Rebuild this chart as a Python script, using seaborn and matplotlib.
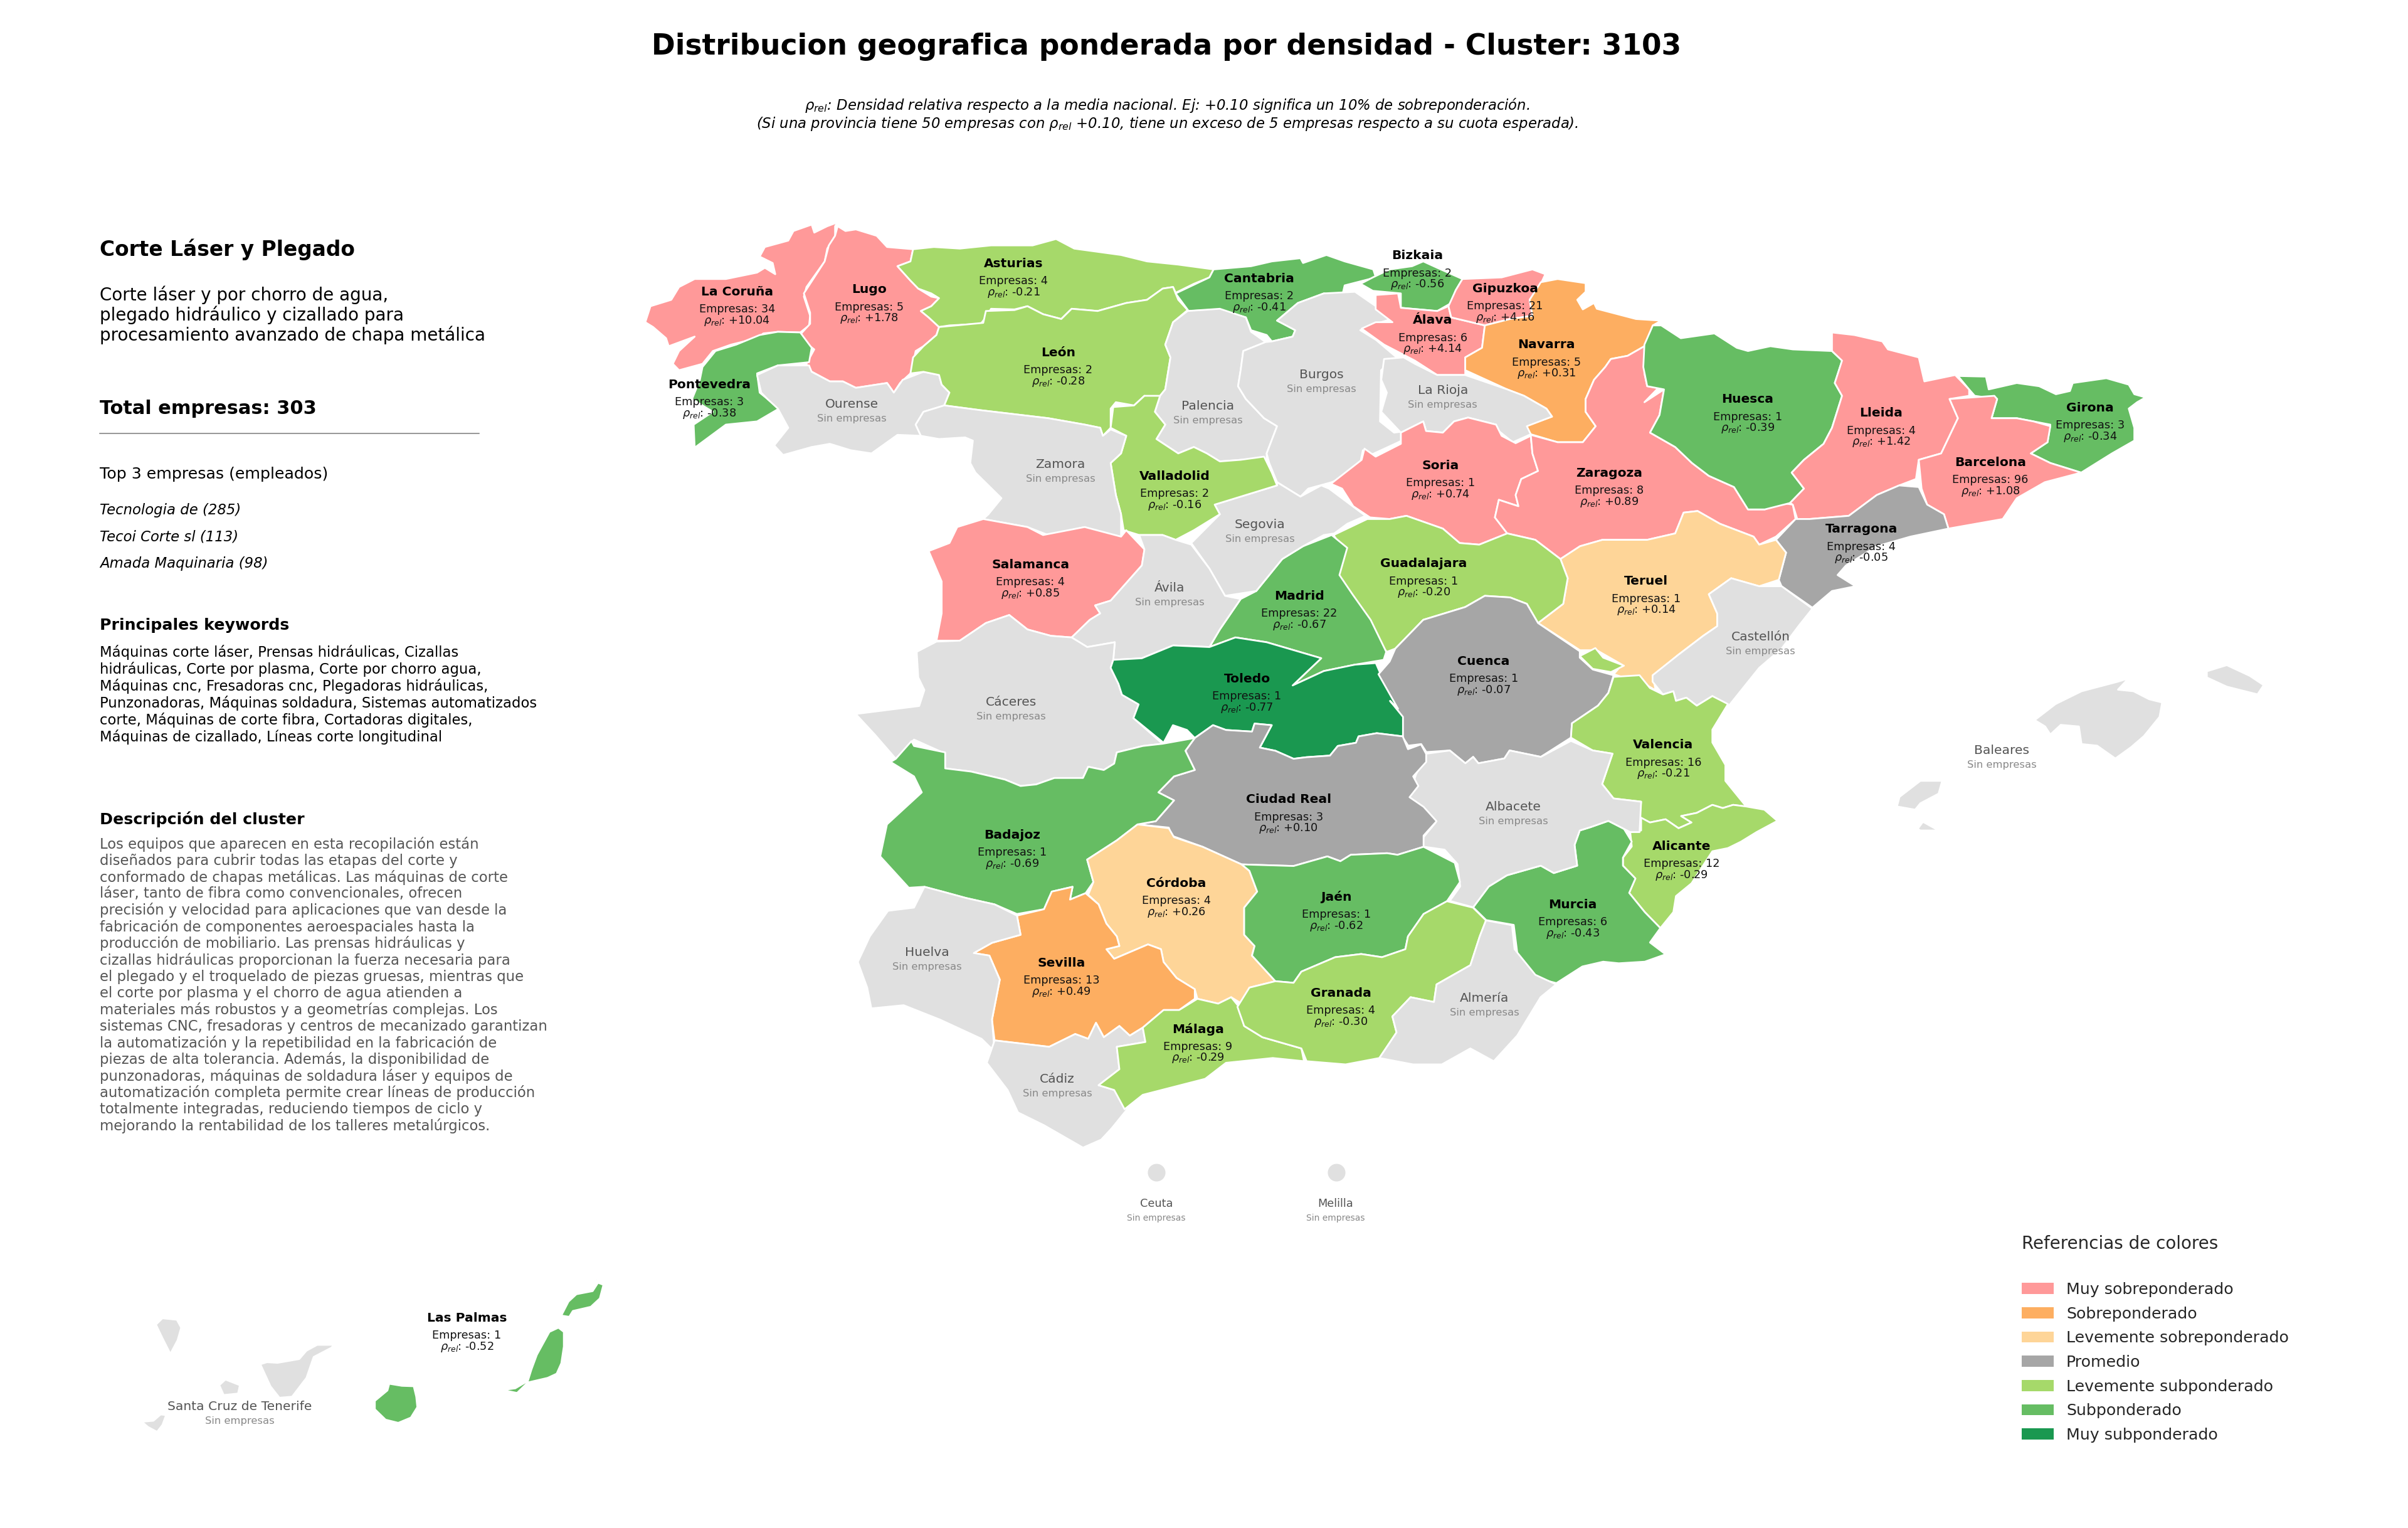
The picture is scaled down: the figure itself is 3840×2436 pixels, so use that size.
import matplotlib
matplotlib.use("Agg")
import matplotlib.pyplot as plt
from matplotlib.patches import Patch
import pandas as pd
import seaborn as sns

sns.set_theme(style="white")
plt.rcParams['font.family'] = ['DejaVu Sans']

# ---------- data ----------
PROVINCES = ["La Coruña","Lugo","Pontevedra","Asturias","Cantabria","León","Bizkaia","Gipuzkoa","Álava","Navarra",
             "Huesca","Lleida","Girona","Barcelona","Soria","Zaragoza","Valladolid","Tarragona","Salamanca","Guadalajara",
             "Madrid","Teruel","Toledo","Cuenca","Valencia","Ciudad Real","Badajoz","Alicante","Córdoba","Jaén",
             "Murcia","Sevilla","Granada","Málaga","Las Palmas"]
EMPRESAS = [34,5,3,4,2,2,2,21,6,5,1,4,3,96,1,8,2,4,4,1,22,1,1,1,16,3,1,12,4,1,6,13,4,9,1]
RHO = [10.04,1.78,-0.38,-0.21,-0.41,-0.28,-0.56,4.16,4.14,0.31,-0.39,1.42,-0.34,1.08,0.74,0.89,-0.16,-0.05,0.85,-0.20,
       -0.67,0.14,-0.77,-0.07,-0.21,0.10,-0.69,-0.29,0.26,-0.62,-0.43,0.49,-0.30,-0.29,-0.52]
LABEL_XY = [(480,190),(566,188.5),(462,250.5),(660,171.5),(820,181.5),(689,229.5),(923,166.5),(980,188),(933,208.5),(1007,224.5),
            (1138,260),(1225,269),(1361,265.5),(1296,301),(938,303),(1048,308),(765,310),(1212,344.5),(671,367.5),(927,367),
            (846,388),(1072,378.5),(812,442),(966,430.5),(1083,485),(839,520.5),(659,543.5),(1095,551),(766,575),(870,584),
            (1024,589),(691,627),(873,646.5),(780,670),(304,858)]
EMPTY = ["Ourense","Palencia","Burgos","La Rioja","Zamora","Segovia","Ávila","Castellón","Cáceres","Baleares",
         "Albacete","Huelva","Almería","Cádiz","Ceuta","Melilla","Santa Cruz de Tenerife"]
EMPTY_XY = [(554.5,263),(786.5,264.5),(860.5,244),(939.5,254),(690.5,302.5),(820.5,341.5),(761.5,383),(1146.5,414.5),(658.5,457),(1303.5,488.5),
            (985.5,525.5),(603.5,620),(966.5,650),(688.5,702.5),(753,783.5),(869.5,783.5),(156,915.5)]
CATEGORIES = ["Muy sobreponderado","Sobreponderado","Levemente sobreponderado","Promedio",
              "Levemente subponderado","Subponderado","Muy subponderado"]
CAT_COLORS = ["#FF9999","#FDAE61","#FED598","#A6A6A6","#A6D96A","#66BD63","#1A9850"]
NO_DATA = "#E0E0E0"
ENCLAVES = pd.DataFrame({"x":[753,870],"y":[763,763],"name":["Ceuta","Melilla"]})

TITLE = "Distribucion geografica ponderada por densidad - Cluster: 3103"
SUB1 = r"$\rho_{rel}$: Densidad relativa respecto a la media nacional. Ej: +0.10 significa un 10% de sobreponderación."
SUB2 = r"(Si una provincia tiene 50 empresas con $\rho_{rel}$ +0.10, tiene un exceso de 5 empresas respecto a su cuota esperada)."
INTRO = ["Corte láser y por chorro de agua,","plegado hidráulico y cizallado para","procesamiento avanzado de chapa metálica"]
TOP3 = ["Tecnologia de (285)","Tecoi Corte sl (113)","Amada Maquinaria (98)"]
KEYWORDS = ["Máquinas corte láser, Prensas hidráulicas, Cizallas","hidráulicas, Corte por plasma, Corte por chorro agua,",
            "Máquinas cnc, Fresadoras cnc, Plegadoras hidráulicas,","Punzonadoras, Máquinas soldadura, Sistemas automatizados",
            "corte, Máquinas de corte fibra, Cortadoras digitales,","Máquinas de cizallado, Líneas corte longitudinal"]
DESCRIPTION = ["Los equipos que aparecen en esta recopilación están","diseñados para cubrir todas las etapas del corte y",
 "conformado de chapas metálicas. Las máquinas de corte","láser, tanto de fibra como convencionales, ofrecen",
 "precisión y velocidad para aplicaciones que van desde la","fabricación de componentes aeroespaciales hasta la",
 "producción de mobiliario. Las prensas hidráulicas y","cizallas hidráulicas proporcionan la fuerza necesaria para",
 "el plegado y el troquelado de piezas gruesas, mientras que","el corte por plasma y el chorro de agua atienden a",
 "materiales más robustos y a geometrías complejas. Los","sistemas CNC, fresadoras y centros de mecanizado garantizan",
 "la automatización y la repetibilidad en la fabricación de","piezas de alta tolerancia. Además, la disponibilidad de",
 "punzonadoras, máquinas de soldadura láser y equipos de","automatización completa permite crear líneas de producción",
 "totalmente integradas, reduciendo tiempos de ciclo y","mejorando la rentabilidad de los talleres metalúrgicos."]

# outlines, in the reading frames below: (x0, y0, sx, sy) in pixels
SCALE = 2.449
FRAMES = {"A":(1000,330,1.206,1.96),"B":(2100,330,1.12,1.96),"C":(1300,1100,1.206,1.96),
          "D":(2200,1000,1.206,1.96),"E":(150,2000,1.742,3.0),"T":(0,0,1/SCALE,1/SCALE)}
OUTLINES = {
"La Coruña":[[("A",[(405,48),(400,60),(400,90),(385,130),(380,170),(345,250),(340,280),(352,340),(350,370),(333,392),(290,390),(262,395),(250,410),(200,430),(165,450),(145,490),(100,510),(88,490),(100,450),(130,405),(80,435),(75,410),(50,375),(35,360),(45,310),(85,290),(100,250),(130,225),(190,225),(250,205),(265,190),(285,210),(280,175),(255,155),(265,125),(310,105),(320,75),(355,55),(360,80),(385,60)])]],
"Lugo":[[("A",[(405,60),(420,75),(440,70),(480,90),(500,125),(550,132),(545,170),(520,185),(545,230),(560,255),(585,280),(600,285),(585,310),(565,325),(580,345),(600,375),(595,400),(570,435),(555,450),(550,490),(545,520),(525,550),(513,580),(500,550),(440,565),(415,545),(390,545),(350,510),(345,490),(360,445),(340,420),(335,395),(352,365),(352,330),(340,270),(380,170),(388,120),(400,90)])]],
"Pontevedra":[[("A",[(333,392),(355,440),(350,485),(290,495),(250,520),(255,580),(270,600),(292,630),(250,670),(190,680),(130,752),(128,680),(165,640),(125,600),(140,540),(145,500),(170,450),(210,430),(255,400),(290,390)])]],
"Ourense":[[("A",[(250,525),(290,495),(350,495),(355,515),(390,545),(415,545),(440,565),(500,550),(513,580),(530,540),(570,515),(600,525),(605,555),(620,580),(610,620),(570,640),(555,680),(565,715),(520,712),(470,770),(430,760),(390,740),(355,750),(300,775),(283,745),(310,690),(290,630),(270,600),(258,580)])]],
"Asturias":[[("A",[(550,132),(590,125),(640,130),(700,120),(780,120),(825,100),(860,130),(950,150),(1000,170),(1060,180),(1128,195),(1120,220),(1090,240),(1055,268),(1050,250),(1030,255),(1000,290),(960,300),(905,325),(855,318),(835,350),(800,335),(770,310),(745,320),(700,318),(690,345),(680,365),(620,370),(600,375),(580,345),(565,325),(585,310),(600,285),(585,270),(560,255),(545,230),(520,185),(545,170)])]],
"León":[[("A",[(600,375),(620,372),(685,362),(690,325),(745,322),(770,310),(800,335),(835,350),(855,318),(905,325),(960,300),(1000,290),(1030,255),(1050,250),(1060,290),(1078,322),(1050,360),(1035,430),(1045,470),(1035,570),(1020,600),(995,590),(975,620),(940,610),(930,630),(930,690),(915,715),(910,690),(880,680),(810,660),(680,635),(610,620),(620,580),(605,555),(600,525),(570,515),(545,520),(550,470),(570,435),(595,400)])]],
"Cantabria":[[("A",[(1128,195),(1200,185),(1240,170),(1295,160),(1300,175),(1345,150),(1380,170),(1435,195),(1440,220),(1380,245),(1375,280),(1340,270),(1290,300),(1250,355),(1285,385),(1280,405),(1240,420),(1230,400),(1200,385),(1190,345),(1140,320),(1080,325),(1055,270),(1120,220)])]],
"Palencia":[[("A",[(1078,325),(1140,318),(1190,345),(1200,390),(1228,422),(1185,450),(1180,510),(1175,560),(1190,600),(1225,660),(1250,685),(1230,770),(1230,790),(1180,790),(1140,795),(1115,770),(1090,750),(1060,770),(1018,725),(1035,680),(1015,640),(1025,590),(1035,570),(1045,470),(1035,430),(1050,360)])]],
"Burgos":[[("A",[(1340,270),(1400,265),(1440,310),(1470,350),(1440,365),(1410,385),(1440,415),(1480,470),(1450,510),(1448,670),(1475,705),(1500,700),(1530,665),(1530,700),(1430,775),(1415,760),(1410,800),(1370,850),(1355,860),(1310,880),(1295,905),(1250,860),(1235,800),(1230,770),(1250,685),(1225,660),(1190,600),(1175,560),(1180,510),(1185,450),(1228,422),(1240,420),(1280,405),(1285,385),(1250,355),(1290,300)])]],
"Bizkaia":[[("B",[(100,220),(130,195),(170,185),(190,170),(215,190),(260,225),(248,260),(240,300),(215,325),(150,315),(150,270),(100,262),(78,240)])]],
"Álava":[[("B",[(105,275),(145,270),(150,315),(215,325),(235,310),(240,345),(300,370),(295,440),(265,470),(265,525),(215,525),(175,480),(120,430),(80,380),(105,360),(135,360),(105,320)])]],
"Gipuzkoa":[[("B",[(260,225),(330,220),(385,195),(408,210),(400,240),(380,290),(385,340),(345,350),(300,370),(240,345),(235,310),(248,260)])]],
"Navarra":[[("B",[(400,235),(430,225),(480,238),(480,265),(465,290),(475,320),(495,300),(500,318),(570,350),(615,355),(600,370),(590,430),(555,465),(525,475),(515,500),(495,540),(480,600),(480,640),(498,685),(475,735),(430,735),(382,710),(372,685),(420,655),(410,630),(370,590),(340,570),(265,510),(265,470),(295,440),(300,370),(345,350),(385,340),(380,290)])]],
"La Rioja":[[("B",[(120,475),(155,470),(175,490),(215,525),(265,525),(340,570),(370,590),(410,630),(420,655),(375,685),(382,710),(350,735),(325,700),(320,680),(270,658),(245,670),(225,705),(195,700),(190,670),(150,705),(115,640),(125,580),(115,540)])]],
"Soria":[[("B",[(150,705),(190,670),(195,700),(225,705),(245,670),(270,658),(320,680),(330,715),(355,738),(382,715),(385,770),(395,825),(365,850),(355,900),(360,935),(325,915),(318,970),(340,1020),(290,1055),(255,1050),(225,1005),(160,965),(130,975),(95,970),(65,935),(45,880),(25,865),(80,790),(85,755),(105,780),(150,740)])]],
"Zaragoza":[[("B",[(585,435),(585,520),(590,560),(610,565),(585,610),(620,570),(612,650),(595,705),(640,750),(670,800),(700,840),(745,875),(770,945),(800,945),(830,925),(850,930),(855,975),(820,1030),(790,1055),(780,1030),(720,990),(680,950),(655,955),(640,1020),(590,1040),(510,1040),(470,1060),(435,1100),(390,1040),(340,1020),(318,970),(325,915),(360,935),(355,900),(365,850),(395,825),(385,770),(382,712),(430,735),(475,735),(498,685),(480,640),(480,600),(495,540),(515,500),(525,475),(555,465)])]],
"Huesca":[[("B",[(615,370),(650,410),(710,395),(750,440),(770,450),(810,435),(850,445),(920,450),(938,480),(925,550),(938,590),(920,690),(905,740),(870,790),(848,830),(870,880),(845,925),(800,945),(770,945),(745,875),(700,840),(670,800),(640,750),(595,705),(612,650),(620,570),(590,560),(583,500),(585,430),(600,370)])]],
"Lleida":[[("B",[(920,392),(960,400),(1010,420),(1020,445),(1075,470),(1085,545),(1140,525),(1165,570),(1165,590),(1130,600),(1145,660),(1115,770),(1075,790),(1070,850),(1040,870),(1000,900),(950,965),(880,975),(858,975),(850,930),(845,925),(870,880),(848,830),(870,790),(905,740),(920,690),(938,590),(925,550),(938,480),(920,450)])]],
"Girona":[[("B",[(1145,528),(1195,530),(1200,570),(1250,550),(1290,560),(1320,585),(1345,575),(1350,550),(1410,535),(1450,555),(1460,585),(1480,595),(1465,610),(1450,630),(1460,690),(1460,730),(1420,770),(1365,830),(1310,800),(1275,770),(1305,735),(1310,680),(1280,670),(1250,660),(1205,660),(1210,630),(1215,600),(1175,590),(1165,570)])]],
"Barcelona":[[("B",[(1130,600),(1210,590),(1215,600),(1210,630),(1205,660),(1250,660),(1280,670),(1310,685),(1305,735),(1275,770),(1310,800),(1365,830),(1300,860),(1250,910),(1225,975),(1128,1005),(1120,960),(1090,930),(1080,880),(1075,790),(1115,770),(1145,660)])]],
"Tarragona":[[("B",[(1040,870),(1075,875),(1090,930),(1120,960),(1128,1005),(1060,1030),(1000,1060),(945,1120),(930,1150),(962,1185),(920,1200),(885,1252),(830,1185),(825,1165),(838,1080),(820,1040),(855,975),(880,975),(950,965),(1000,900)])]],
"Teruel":[[("B",[(435,1100),(470,1060),(510,1040),(590,1040),(640,1020),(655,955),(680,950),(720,990),(780,1030),(790,1055),(820,1040),(838,1080),(825,1165),(790,1185),(740,1160),(700,1210),(715,1270),(715,1310),(690,1340),(645,1400),(600,1465),(605,1510),(585,1490),(530,1460),(545,1430),(500,1385),(470,1385),(395,1300),(440,1240),(448,1160)])]],
"Castellón":[[("B",[(740,1160),(790,1185),(830,1185),(885,1255),(860,1310),(830,1380),(790,1440),(735,1560)]),("D",[(640,215),(610,245),(590,220),(570,230),(565,200),(545,210),(525,170),(525,150)]),("B",[(645,1400),(690,1340),(715,1310),(715,1270),(700,1210)])]],
"Guadalajara":[[("B",[(30,1025),(90,975),(130,975),(160,965),(225,1005),(255,1050),(290,1055),(340,1020),(390,1040),(435,1100),(448,1160),(440,1240),(395,1300),(375,1240),(345,1220),(300,1215),(265,1250),(190,1290),(140,1380),(125,1390),(100,1340),(60,1210),(30,1150),(50,1080)])]],
"Madrid":[[("A",[(1355,1025),(1385,1065),(1370,1150),(1395,1210),(1430,1290),(1460,1390),(1455,1415),(1400,1430),(1340,1450),(1280,1495),(1335,1410),(1230,1360),(1170,1345),(1120,1375),(1140,1320),(1180,1225),(1210,1200),(1260,1100),(1300,1060)])]],
"Segovia":[[("A",[(1250,860),(1295,905),(1335,870),(1350,880),(1420,965),(1385,990),(1360,1020),(1340,1025),(1300,1060),(1260,1100),(1210,1200),(1150,1215),(1120,1130),(1085,1050),(1140,960),(1130,930),(1250,870)])]],
"Valladolid":[[("A",[(935,625),(975,620),(995,590),(1025,590),(1015,640),(1035,680),(1018,725),(1060,770),(1090,750),(1115,770),(1140,795),(1180,790),(1225,780),(1240,830),(1250,870),(1130,930),(1140,960),(1090,1010),(1055,1040),(1030,1025),(985,1025),(955,1010),(950,960),(940,900),(930,800),(950,770),(960,715),(930,690)])]],
"Zamora":[[("A",[(555,680),(570,640),(610,620),(680,635),(810,660),(880,680),(910,690),(915,715),(930,695),(960,715),(950,770),(930,800),(940,900),(950,960),(950,1030),(905,1015),(880,1000),(810,1025),(770,1000),(685,975),(695,960),(720,910),(670,830),(660,800),(665,730),(650,720),(600,725),(565,715)])]],
"Salamanca":[[("A",[(685,975),(770,1000),(800,1025),(880,1000),(950,1030),(960,1010),(995,1070),(990,1120),(930,1230),(900,1245),(910,1270),(890,1290),(855,1345),(815,1340),(770,1320),(735,1275),(690,1300),(640,1355),(595,1355),(605,1270),(605,1170),(580,1075),(620,1050),(635,1000)])]],
"Ávila":[[("A",[(985,1025),(1030,1025),(1055,1040),(1085,1055),(1120,1130),(1150,1215),(1180,1225),(1140,1320),(1120,1375),(1050,1370),(990,1410),(935,1415),(938,1360),(885,1375),(855,1345),(890,1290),(910,1270),(900,1245),(930,1230),(990,1120),(995,1070)])]],
"Cáceres":[[("A",[(557,1390),(595,1358),(640,1355),(690,1300),(735,1275),(770,1320),(815,1340),(855,1345),(885,1375),(938,1360),(935,1415),(930,1440),(945,1490)]),("C",[(590,15),(622,45),(612,88),(668,168),(630,175),(580,195),(575,230),(555,250),(525,240),(515,275),(460,275),(425,295),(395,300),(365,280),(300,255),(250,245),(245,195),(190,155),(155,215),(115,140),(78,75),(200,50),(210,0)]),("A",[(560,1470)])]],
"Toledo":[[("A",[(935,1415),(990,1410),(1050,1370),(1120,1375),(1170,1345),(1230,1360),(1335,1410),(1280,1495),(1340,1450),(1400,1430),(1440,1425),(1460,1500),(1490,1568)]),("C",[(1135,75),(1130,145),(1080,135),(1045,145),(1040,165),(1005,175),(990,205),(945,210),(920,215),(885,190),(855,180),(878,110),(845,105),(840,130),(790,125),(765,110),(730,150),(715,125),(688,110),(670,165),(612,88),(622,45),(590,15)]),("A",[(945,1490),(930,1440)])]],
"Cuenca":[[("B",[(140,1380),(190,1290),(265,1250),(300,1215),(345,1220),(375,1240),(395,1300)]),("D",[(385,75),(385,95),(410,132),(450,150),(440,205),(420,245),(370,300),(368,345),(310,405),(250,385),(240,410),(190,425),(180,405),(165,425),(135,385),(90,390),(80,365),(55,370),(45,345),(45,280),(20,230)]),("B",[(145,1568),(110,1460),(130,1420)])]],
"Valencia":[[("D",[(450,155),(500,150),(520,190),(545,210),(565,200),(570,230),(590,220),(610,245),(640,215),(670,240),(640,320),(640,360),(665,430),(665,480),(705,560),(680,555),(660,565),(640,555),(610,580),(580,590),(600,610),(575,628),(550,600),(520,610),(500,595),(503,545),(450,535),(428,490),(448,395),(410,385),(368,345),(370,300),(420,245),(440,205)])],
            [("D",[(385,90),(415,65),(430,95),(470,120),(445,140),(410,130)])]],
"Alicante":[[("D",[(503,595),(520,610),(550,600),(575,628),(600,610),(580,590),(610,580),(640,555),(660,565),(680,555),(705,560),(740,570),(765,605),(725,640),(695,670),(670,690),(640,700),(600,800),(570,840),(565,890),(540,940),(510,890),(480,830),(492,785),(468,745),(468,720),(485,685),(482,640),(503,635)])]],
"Murcia":[[("D",[(440,605),(470,630),(485,670),(468,720),(468,745),(492,785),(480,830),(510,890),(540,940),(520,985),(550,1022),(510,1045),(460,1050),(430,1045),(390,1060),(340,1112),(300,1095),(265,1020),(258,930),(205,915),(180,875),(210,810),(245,775),(310,745),(335,768),(380,745),(375,680),(385,635),(405,625)])]],
"Albacete":[[("D",[(90,395),(135,385),(165,425),(180,405),(190,425),(240,410),(250,385),(310,405),(368,355),(410,385),(448,395),(428,490),(450,535),(503,545),(500,640),(482,640),(470,630),(440,605),(405,625),(385,635),(375,680),(380,745),(335,768),(310,745),(245,775),(210,810),(180,875),(135,855),(155,810),(150,740),(125,695),(82,685),(85,655),(108,610),(85,570),(55,535),(70,460)])]],
"Ciudad Real":[[("C",[(730,150),(765,110),(790,125),(840,130),(845,105),(878,110),(855,180),(885,190),(920,215),(945,210),(990,205),(1005,175),(1040,165),(1045,145),(1080,135),(1130,145),(1140,185),(1165,170),(1175,200),(1175,225),(1150,270),(1160,300),(1143,335),(1170,365),(1195,410),(1170,455),(1170,490),(1120,515),(1100,510),(1030,515),(1010,535),(985,520),(920,550),(820,545),(745,490),(685,455),(680,430),(620,420),(655,410),(690,345),(660,320),(690,270),(730,250),(712,190)])]],
"Badajoz":[[("C",[(145,225),(155,215),(185,160),(190,175),(250,195),(250,245),(300,255),(365,280),(395,300),(425,295),(460,275),(515,275),(525,240),(555,250),(575,230),(580,195),(630,175),(668,168),(730,150),(712,190),(730,250),(690,270),(660,320),(690,345),(655,410),(620,420),(580,470),(523,530),(535,600),(520,635),(490,655),(495,615),(455,630),(440,685),(388,700),(345,670),(290,650),(245,630),(210,615),(180,618),(125,520),(138,420),(205,320),(190,270)])]],
"Córdoba":[[("C",[(620,420),(680,432),(690,460),(745,490),(820,545),(835,565),(850,630),(825,680),(825,765),(845,800),(840,830),(885,910),(835,930),(825,985),(800,960),(775,980),(735,965),(730,935),(695,900),(670,850),(665,810),(640,795),(575,840),(560,810),(585,800),(580,770),(560,730),(545,670),(525,640),(535,600),(523,530),(580,470)])]],
"Sevilla":[[("C",[(495,615),(490,655),(520,635),(545,670),(560,730),(580,770),(585,800),(560,810),(575,840),(640,795),(665,810),(670,850),(695,900),(730,935),(730,965),(700,1000),(670,1000),(630,1055),(605,1080),(585,1050),(555,1085),(540,1040),(525,1090),(500,1075),(450,1115),(345,1095),(340,1030),(355,905),(335,830),(305,822),(340,790),(395,765),(388,705),(440,685),(455,630)])]],
"Huelva":[[("C",[(210,615),(245,630),(290,650),(345,670),(388,705),(395,765),(340,790),(305,822),(335,830),(355,905),(340,1030),(345,1130),(320,1090),(240,1030),(170,985),(108,995),(100,930),(82,850),(105,770),(140,690),(190,680)])]],
"Cádiz":[[("C",[(345,1095),(450,1115),(500,1075),(525,1090),(540,1040),(555,1085),(585,1050),(605,1080),(630,1055),(635,1100),(580,1115),(585,1185),(545,1235),(575,1250),(600,1310),(570,1370),(550,1405),(515,1430),(440,1360),(390,1320),(370,1250),(330,1165)])]],
"Málaga":[[("C",[(735,965),(775,980),(800,960),(815,990),(825,1050),(860,1085),(935,1120),(940,1160),(880,1150),(790,1165),(750,1215),(690,1240),(630,1265),(595,1310),(575,1250),(545,1235),(585,1185),(580,1115),(635,1100),(630,1055),(670,1000),(700,1000)])]],
"Jaén":[[("C",[(820,545),(920,550),(985,520),(1010,535),(1030,515),(1100,510),(1120,515),(1170,490),(1230,540),(1240,600),(1215,660),(1170,700),(1140,770),(1135,810),(1090,835),(1050,825),(1000,835),(935,880),(920,915),(885,910),(840,830),(845,800),(825,765),(825,680),(850,630),(835,565)])]],
"Granada":[[("C",[(885,910),(920,915),(935,880),(1000,835),(1050,825),(1090,835),(1135,810),(1140,770),(1170,700),(1215,660),(1265,680),(1290,720),(1278,770),(1260,860),(1195,920),(1190,975),(1145,960),(1110,1020),(1118,1070),(1085,1150),(1020,1170),(945,1160),(935,1120),(860,1085),(825,1050),(812,990),(835,930)])]],
"Almería":[[("C",[(1290,720),(1340,735),(1345,810),(1385,890),(1425,920),(1395,960),(1350,1080),(1305,1160),(1260,1120),(1205,1170),(1150,1170),(1085,1150),(1118,1070),(1110,1020),(1145,960),(1190,975),(1195,920),(1260,860),(1278,770)])]],
"Baleares":[[("D",[(1260,290),(1300,240),(1350,200),(1420,170),(1440,160),(1420,195),(1450,200),(1480,225),(1505,235),(1500,280),(1470,340),(1445,375),(1415,410),(1380,370),(1350,365),(1345,310),(1310,305),(1290,335),(1280,310)])],
            [("D",[(1000,530),(1040,480),(1082,480),(1075,520),(1040,550),(1030,570),(995,560)])],
            [("D",[(1035,630),(1045,608),(1075,635),(1040,635)])],
            [("T",[(1437,437),(1450,433),(1465,440),(1474,446),(1470,452),(1450,447),(1437,441)])]],
"Santa Cruz de Tenerife":[[("E",[(172,335),(190,305),(230,312),(242,350),(232,410),(212,475),(190,400)])],
            [("E",[(348,625),(365,598),(405,625),(400,665),(360,672)])],
            [("E",[(462,525),(480,515),(510,518),(570,500),(590,460),(620,432),(665,432),(660,445),(610,490),(590,590),(550,680),(515,685),(490,630)])],
            [("E",[(133,800),(165,795),(185,765),(200,768),(190,815),(175,848),(150,825)])]],
"Las Palmas":[[("E",[(780,700),(815,650),(820,618),(855,628),(888,630),(895,680),(898,730),(880,780),(845,805),(810,790),(780,740)])],
            [("E",[(1135,648),(1170,640),(1205,605),(1215,550),(1230,480),(1265,370),(1290,350),(1305,370),(1305,440),(1298,520),(1285,570),(1260,590),(1205,612),(1175,662)])],
            [("E",[(1298,292),(1318,225),(1340,190),(1385,175),(1400,135),(1415,145),(1405,210),(1380,250),(1330,270),(1320,298)])],
            [("E",[(1390,125),(1398,108),(1398,125)])]],
}

# ---------- helpers ----------
def category_index(v):
    for i, limit in enumerate([0.7, 0.3, 0.1, -0.1, -0.3, -0.7]):
        if (v > limit) if i < 3 else (v >= limit):
            return i
    return 6

def to_map(polygon):
    xs, ys = [], []
    for frame, pts in polygon:
        x0, y0, sx, sy = FRAMES[frame]
        for px, py in pts:
            xs.append((x0 + px / sx) / SCALE)
            ys.append((y0 + py / sy) / SCALE)
    return xs, ys

palette = sns.color_palette(CAT_COLORS)
fill = {p: palette[category_index(r)] for p, r in zip(PROVINCES, RHO)}

DPI = 182
fig = plt.figure(figsize=(3840 / DPI, 2436 / DPI), dpi=DPI, facecolor="white")
ax = fig.add_axes([0, 0, 1, 1])
ax.set_xlim(0, 3840 / SCALE)
ax.set_ylim(2436 / SCALE, 0)
ax.axis("off")

for name, polygons in OUTLINES.items():
    for polygon in polygons:
        xs, ys = to_map(polygon)
        ax.fill(xs, ys, facecolor=fill.get(name, NO_DATA), edgecolor="white", linewidth=1.1, joinstyle="round", zorder=2)

sns.scatterplot(data=ENCLAVES, x="x", y="y", s=106, color=NO_DATA, edgecolor=NO_DATA, legend=False, ax=ax, zorder=2)

for name, n, r, (x, y) in zip(PROVINCES, EMPRESAS, RHO, LABEL_XY):
    ax.text(x, y, name, fontsize=8, fontweight="bold", color="black", ha="center", va="center", zorder=5)
    ax.text(x, y + 11.4, f"Empresas: {n}", fontsize=7, color="#111111", ha="center", va="center", zorder=5)
    ax.text(x, y + 18.8, rf"$\rho_{{rel}}$: {r:+.2f}", fontsize=7, color="#111111", ha="center", va="center", zorder=5)
for name, (x, y) in zip(EMPTY, EMPTY_XY):
    small = name in ("Ceuta", "Melilla")
    ax.text(x, y, name, fontsize=7 if small else 8, color="#555555", ha="center", va="center", zorder=5)
    ax.text(x, y + 9.4, "Sin empresas", fontsize=5.5 if small else 6.5, color="#888888", ha="center", va="center", zorder=5)

# heading
ax.text(759.5, 30.5, TITLE, fontsize=18, fontweight="bold", color="black", ha="center", va="center")
ax.text(760, 68.5, SUB1, fontsize=9, style="italic", color="black", ha="center", va="center")
ax.text(760, 80.5, SUB2, fontsize=9, style="italic", color="black", ha="center", va="center")

# left panel
LEFT = 65
ax.text(LEFT, 162.5, "Corte Láser y Plegado", fontsize=13, fontweight="bold", ha="left", va="center", color="black")
for i, line in enumerate(INTRO):
    ax.text(LEFT, 192 + i * 13, line, fontsize=11, ha="left", va="center", color="black")
ax.text(LEFT, 266, "Total empresas: 303", fontsize=12, fontweight="bold", ha="left", va="center", color="black")
ax.plot([LEFT, 312], [282, 282], color="#999999", lw=0.8)
ax.text(LEFT, 308.5, "Top 3 empresas (empleados)", fontsize=10, ha="left", va="center", color="black")
for line, y in zip(TOP3, [332, 349.5, 367]):
    ax.text(LEFT, y, line, fontsize=9, style="italic", ha="left", va="center", color="black")
ax.text(LEFT, 407, "Principales keywords", fontsize=10, fontweight="bold", ha="left", va="center", color="black")
for i, line in enumerate(KEYWORDS):
    ax.text(LEFT, 424.5 + i * 11.06, line, fontsize=9, ha="left", va="center", color="black")
ax.text(LEFT, 533.5, "Descripción del cluster", fontsize=10, fontweight="bold", ha="left", va="center", color="black")
for i, line in enumerate(DESCRIPTION):
    ax.text(LEFT, 549.5 + i * 10.79, line, fontsize=9, ha="left", va="center", color="#555555")

# legend
handles = [Patch(facecolor=c, edgecolor="none", label=l) for c, l in zip(palette, CATEGORIES)]
leg = ax.legend(handles=handles, title="Referencias de colores\n", title_fontsize=11, fontsize=10, frameon=False,
                loc="upper left", bbox_to_anchor=(1316.5, 804), bbox_transform=ax.transData,
                alignment="left", borderpad=0, borderaxespad=0, labelspacing=0.58)

fig.savefig("out.png", dpi=DPI, facecolor="white")
